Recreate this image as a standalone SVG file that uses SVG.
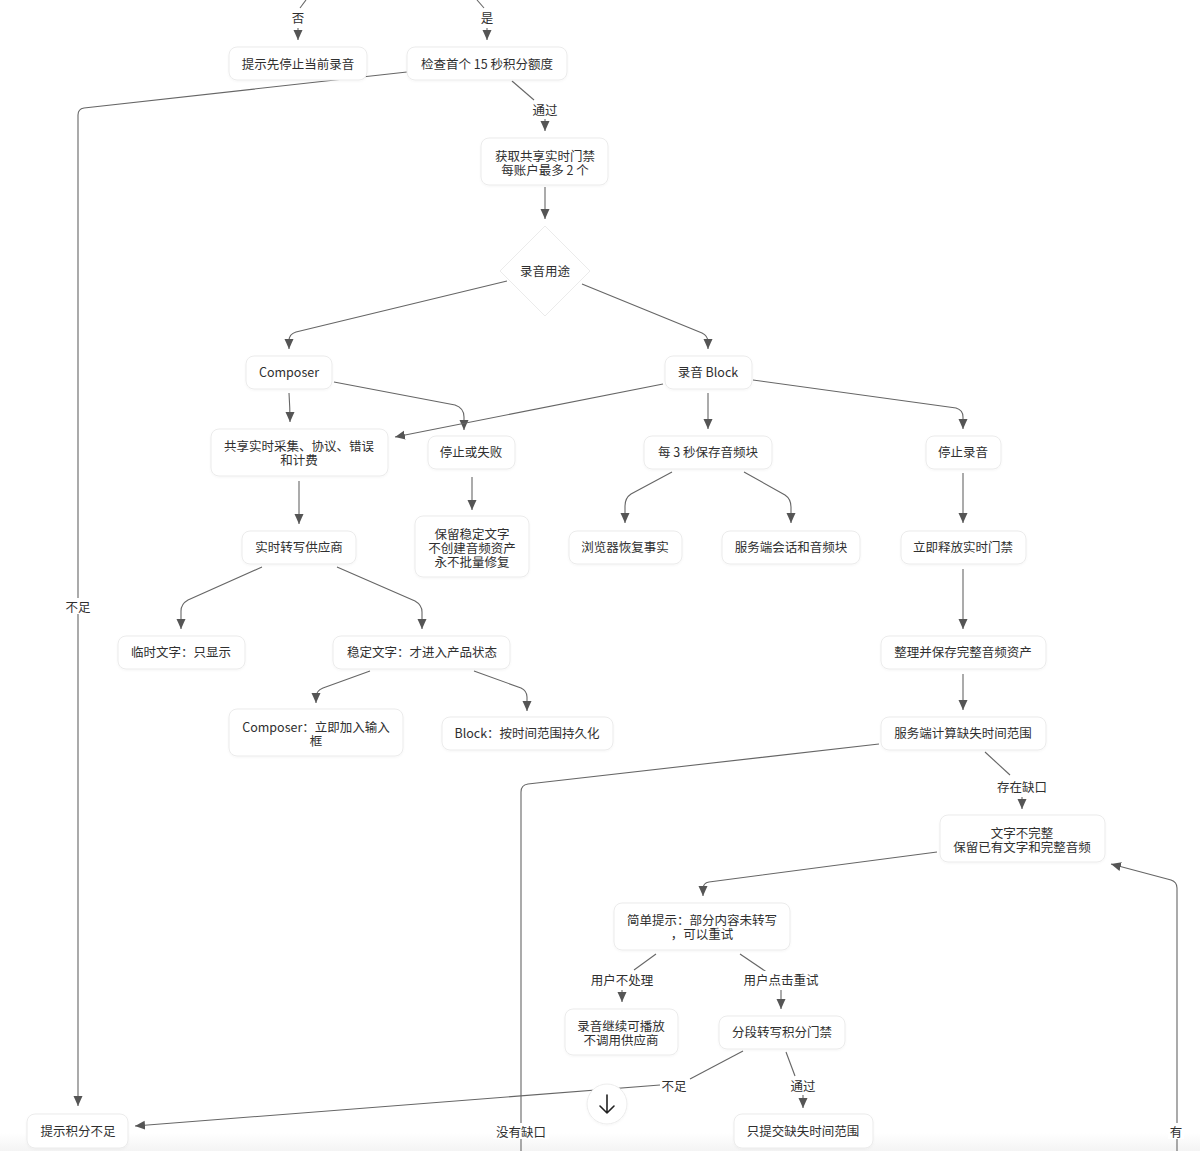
<svg xmlns="http://www.w3.org/2000/svg" width="1200" height="1151" viewBox="0 0 1200 1151">
<defs>
<style>
.n rect{fill:#fff;stroke:#ebebeb;stroke-width:1;filter:url(#sh)}
.n polygon{fill:#fff;stroke:#ebebeb;stroke-width:1}
text{font-family:"Noto Sans CJK SC","Liberation Sans",sans-serif;font-size:12.5px;fill:#2f2f2f;text-anchor:middle;dominant-baseline:central}
.e path{fill:none;stroke:#666;stroke-width:1.1}
.lb rect{fill:#fff}
</style>
<filter id="sh" x="-10%" y="-20%" width="120%" height="150%">
<feDropShadow dx="0" dy="1" stdDeviation="1" flood-color="#000" flood-opacity="0.04"/>
</filter>
<marker id="a" viewBox="0 0 10 10" refX="10" refY="5" markerWidth="10" markerHeight="10" markerUnits="userSpaceOnUse" orient="auto">
<path d="M0,0.5 L10,5 L0,9.5 z" fill="#555"/>
</marker>
<linearGradient id="fade" x1="0" y1="0" x2="0" y2="1">
<stop offset="0" stop-color="#f4f4f4" stop-opacity="0"/>
<stop offset="1" stop-color="#f4f4f4" stop-opacity="1"/>
</linearGradient>
</defs>
<rect width="1200" height="1151" fill="#fff"/>
<rect x="0" y="1133" width="1200" height="18" fill="url(#fade)"/>

<g id="connectors" class="e">
<path d="M306,0 L300,8"/>
<path d="M298,28 L298,40" marker-end="url(#a)"/>
<path d="M477,0 L484,8"/>
<path d="M487,28 L487,40" marker-end="url(#a)"/>
<path d="M407,72 L84,108 Q78,109 78,115 L78,1106" marker-end="url(#a)"/>
<path d="M512,81 L534,100"/>
<path d="M545,119 L545,131" marker-end="url(#a)"/>
<path d="M545,187 L545,219" marker-end="url(#a)"/>
<path d="M507,281 L296,332 Q289,334 289,341 L289,349" marker-end="url(#a)"/>
<path d="M582,284 L702,333 Q708,336 708,342 L708,349" marker-end="url(#a)"/>
<path d="M289,393 Q290,408 290,422" marker-end="url(#a)"/>
<path d="M334,382 L455,405 Q464,408 464,417 L464,430" marker-end="url(#a)"/>
<path d="M663,384 L395,437" marker-end="url(#a)"/>
<path d="M708,393 L708,429" marker-end="url(#a)"/>
<path d="M753,380 L956,408 Q963,410 963,417 L963,429" marker-end="url(#a)"/>
<path d="M299,481 L299,524" marker-end="url(#a)"/>
<path d="M472,477 L472,510" marker-end="url(#a)"/>
<path d="M672,472 L631,494 Q625,498 625,506 L625,523" marker-end="url(#a)"/>
<path d="M744,472 L785,495 Q791,499 791,507 L791,523" marker-end="url(#a)"/>
<path d="M963,473 L963,523" marker-end="url(#a)"/>
<path d="M262,567 L188,600 Q181,604 181,611 L181,629" marker-end="url(#a)"/>
<path d="M337,567 L415,601 Q422,605 422,612 L422,629" marker-end="url(#a)"/>
<path d="M963,569 L963,629" marker-end="url(#a)"/>
<path d="M370,671 L323,688 Q316,691 316,697 L316,703" marker-end="url(#a)"/>
<path d="M474,671 L521,688 Q527,691 527,697 L527,711" marker-end="url(#a)"/>
<path d="M963,674 L963,710" marker-end="url(#a)"/>
<path d="M879,744 L528,784 Q521,785 521,792 L521,1151"/>
<path d="M985,752 L1010,775"/>
<path d="M1022,797 L1022,809" marker-end="url(#a)"/>
<path d="M937,852 L709,882 Q703,883 703,889 L703,896" marker-end="url(#a)"/>
<path d="M1177,1151 L1177,888 Q1177,882 1171,880 L1111,864" marker-end="url(#a)"/>
<path d="M656,954 L634,970"/>
<path d="M622,990 L622,1002" marker-end="url(#a)"/>
<path d="M740,954 L768,973"/>
<path d="M781,990 L781,1009" marker-end="url(#a)"/>
<path d="M743,1051 L690,1079"/>
<path d="M660,1085 L135,1126" marker-end="url(#a)"/>
<path d="M786,1052 L795,1076"/>
<path d="M803,1095 L803,1108" marker-end="url(#a)"/>
</g>

<g id="edge-labels" class="lb">
<rect x="290" y="10" width="16" height="15"/><text x="298" y="17">否</text>
<rect x="479" y="10" width="16" height="15"/><text x="487" y="17">是</text>
<rect x="530" y="101" width="30" height="16"/><text x="545" y="109">通过</text>
<rect x="64" y="598" width="28" height="16"/><text x="78" y="606">不足</text>
<rect x="994" y="778" width="56" height="16"/><text x="1022" y="786">存在缺口</text>
<rect x="493" y="1123" width="56" height="16"/><text x="521" y="1131">没有缺口</text>
<rect x="1168" y="1123" width="16" height="16"/><text x="1176" y="1131">有</text>
<rect x="587" y="971" width="70" height="16"/><text x="622" y="979">用户不处理</text>
<rect x="742" y="971" width="78" height="16"/><text x="781" y="979">用户点击重试</text>
<rect x="660" y="1077" width="28" height="16"/><text x="674" y="1085">不足</text>
<rect x="789" y="1077" width="28" height="16"/><text x="803" y="1085">通过</text>
</g>

<g id="n1" class="n"><rect x="229" y="47" width="138" height="33" rx="8"/><text x="298" y="63.5">提示先停止当前录音</text></g>
<g id="n2" class="n"><rect x="407" y="47" width="160" height="33" rx="8"/><text x="487" y="63.5">检查首个 15 秒积分额度</text></g>
<g id="n3" class="n"><rect x="481" y="138" width="127" height="47" rx="8"/><text x="545" y="154.5"><tspan x="545">获取共享实时门禁</tspan><tspan x="545" dy="14">每账户最多 2 个</tspan></text></g>
<g id="n4" class="n"><polygon points="545,226 590,271 545,316 500,271"/><text x="545" y="270.5">录音用途</text></g>
<g id="n5" class="n"><rect x="246" y="356" width="86" height="33" rx="8"/><text x="289" y="371.5">Composer</text></g>
<g id="n6" class="n"><rect x="665" y="356" width="87" height="33" rx="8"/><text x="708" y="371.5">录音 Block</text></g>
<g id="n7" class="n"><rect x="211" y="429" width="177" height="47" rx="8"/><text x="299" y="444.5"><tspan x="299">共享实时采集、协议、错误</tspan><tspan x="299" dy="14">和计费</tspan></text></g>
<g id="n8" class="n"><rect x="428" y="436" width="87" height="33" rx="8"/><text x="471" y="451.5">停止或失败</text></g>
<g id="n9" class="n"><rect x="644" y="436" width="128" height="33" rx="8"/><text x="708" y="451.5">每 3 秒保存音频块</text></g>
<g id="n10" class="n"><rect x="926" y="436" width="75" height="33" rx="8"/><text x="963" y="451.5">停止录音</text></g>
<g id="n11" class="n"><rect x="242" y="531" width="114" height="33" rx="8"/><text x="299" y="546.5">实时转写供应商</text></g>
<g id="n12" class="n"><rect x="415" y="516" width="114" height="61" rx="8"/><text x="472" y="532.5"><tspan x="472">保留稳定文字</tspan><tspan x="472" dy="14">不创建音频资产</tspan><tspan x="472" dy="14">永不批量修复</tspan></text></g>
<g id="n13" class="n"><rect x="569" y="531" width="113" height="33" rx="8"/><text x="625" y="546.5">浏览器恢复事实</text></g>
<g id="n14" class="n"><rect x="722" y="531" width="138" height="33" rx="8"/><text x="791" y="546.5">服务端会话和音频块</text></g>
<g id="n15" class="n"><rect x="901" y="531" width="125" height="33" rx="8"/><text x="963" y="546.5">立即释放实时门禁</text></g>
<g id="n16" class="n"><rect x="118" y="636" width="127" height="33" rx="8"/><text x="181" y="651.5">临时文字：只显示</text></g>
<g id="n17" class="n"><rect x="333" y="636" width="177" height="33" rx="8"/><text x="422" y="651.5">稳定文字：才进入产品状态</text></g>
<g id="n18" class="n"><rect x="881" y="636" width="165" height="33" rx="8"/><text x="963" y="651.5">整理并保存完整音频资产</text></g>
<g id="n19" class="n"><rect x="229" y="709" width="174" height="47" rx="8"/><text x="316" y="725.5"><tspan x="316">Composer：立即加入输入</tspan><tspan x="316" dy="14">框</tspan></text></g>
<g id="n20" class="n"><rect x="442" y="717" width="171" height="33" rx="8"/><text x="527" y="732.5">Block：按时间范围持久化</text></g>
<g id="n21" class="n"><rect x="881" y="717" width="165" height="33" rx="8"/><text x="963" y="732.5">服务端计算缺失时间范围</text></g>
<g id="n22" class="n"><rect x="940" y="815" width="165" height="47" rx="8"/><text x="1022" y="831.5"><tspan x="1022">文字不完整</tspan><tspan x="1022" dy="14">保留已有文字和完整音频</tspan></text></g>
<g id="n23" class="n"><rect x="614" y="903" width="176" height="47" rx="8"/><text x="702" y="918.5"><tspan x="702">简单提示：部分内容未转写</tspan><tspan x="702" dy="14">，可以重试</tspan></text></g>
<g id="n24" class="n"><rect x="565" y="1009" width="113" height="46" rx="8"/><text x="621" y="1024.5"><tspan x="621">录音继续可播放</tspan><tspan x="621" dy="14">不调用供应商</tspan></text></g>
<g id="n25" class="n"><rect x="719" y="1016" width="126" height="33" rx="8"/><text x="782" y="1031.5">分段转写积分门禁</text></g>
<g id="n26" class="n"><rect x="27" y="1114" width="101" height="34" rx="8"/><text x="78" y="1130.5">提示积分不足</text></g>
<g id="n27" class="n"><rect x="734" y="1114" width="139" height="34" rx="8"/><text x="803" y="1130.5">只提交缺失时间范围</text></g>

<g id="scroll-button">
<circle cx="607" cy="1104" r="20" fill="#fff" stroke="#ececec" stroke-width="1" filter="url(#sh)"/>
<path d="M607,1095 L607,1113 M600,1106 L607,1113 L614,1106" fill="none" stroke="#222" stroke-width="1.6" stroke-linecap="round" stroke-linejoin="round"/>
</g>
</svg>
